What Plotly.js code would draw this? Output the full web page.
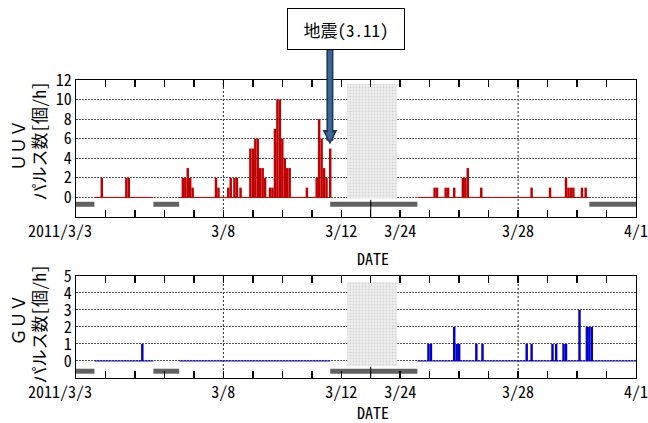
<!DOCTYPE html>
<html><head><meta charset="utf-8">
<script src="https://cdn.plot.ly/plotly-3.0.1.min.js"></script>
<style>html,body{margin:0;padding:0;background:#fff}</style>
</head><body><div id="chart" style="width:648px;height:423px"></div>
<script>
// ---------- data ----------
const uuvTimes = ['2011-03-03 20:00','2011-03-04 16:00','2011-03-04 18:00',
  '2011-03-06 14:00','2011-03-06 16:00','2011-03-06 18:00','2011-03-06 20:00','2011-03-06 22:00',
  '2011-03-07 17:00','2011-03-07 19:00',
  '2011-03-08 03:00','2011-03-08 05:00','2011-03-08 08:00','2011-03-08 10:00','2011-03-08 13:00',
  '2011-03-08 21:00','2011-03-08 23:00','2011-03-09 01:00','2011-03-09 03:00','2011-03-09 05:00',
  '2011-03-09 07:00','2011-03-09 09:00','2011-03-09 13:00','2011-03-09 15:00','2011-03-09 17:00',
  '2011-03-09 19:00','2011-03-09 21:00','2011-03-09 23:00','2011-03-10 01:00','2011-03-10 03:00',
  '2011-03-10 05:00','2011-03-10 19:00',
  '2011-03-11 03:00','2011-03-11 05:00','2011-03-11 07:00','2011-03-11 09:00','2011-03-11 11:00','2011-03-11 14:00',
  '2011-03-25 03:00','2011-03-25 05:00','2011-03-25 12:00','2011-03-25 14:00','2011-03-25 19:00',
  '2011-03-26 02:00','2011-03-26 04:00','2011-03-26 06:00','2011-03-26 17:00',
  '2011-03-28 10:00','2011-03-29 01:00','2011-03-29 14:00','2011-03-29 16:00','2011-03-29 18:00',
  '2011-03-29 20:00','2011-03-30 03:00','2011-03-30 06:00'];
const uuvCounts = [2,2,2,
  2,2,3,2,1,
  2,1,
  1,2,2,2,1,
  5,5,6,6,3,
  3,2,1,1,7,
  10,10,6,4,3,
  3,1,
  2,8,6,3,2,5,
  1,1,1,1,1,
  2,2,3,1,
  1,1,2,1,1,
  1,1,1];
const guvTimes = ['2011-03-05 05:00',
  '2011-03-24 22:00','2011-03-25 00:00','2011-03-25 19:00','2011-03-25 21:00','2011-03-25 23:00',
  '2011-03-26 13:00','2011-03-26 18:00','2011-03-28 06:00','2011-03-28 10:00',
  '2011-03-29 03:00','2011-03-29 06:00','2011-03-29 12:00','2011-03-29 14:00',
  '2011-03-30 01:00','2011-03-30 07:00','2011-03-30 09:00','2011-03-30 11:00'];
const guvCounts = [1,
  1,1,2,1,1,
  1,1,1,1,
  1,1,1,1,
  3,2,2,2];
// missing-data periods (gray bars)
const guvGapStart = ['2011-03-03 00:00','2011-03-05 15:00','2011-03-11 15:00'];
const guvGapEnd   = ['2011-03-03 15:00','2011-03-06 12:00','2011-03-24 14:00'];
const uuvGapStart = ['2011-03-03 00:00','2011-03-05 15:00','2011-03-11 15:00','2011-03-30 10:00'];
const uuvGapEnd   = ['2011-03-03 15:00','2011-03-06 12:00','2011-03-24 14:00','2011-04-01 00:00'];
const startTime = '2011-03-03 00:00';
const endTime = '2011-04-01 00:00';
const breakStart = '2011-03-12 00:00';   // axis is compressed between these two dates
const breakEnd = '2011-03-24 00:00';
const tickDates = ['2011-03-03 00:00','2011-03-08 00:00','2011-03-12 00:00','2011-03-24 00:00','2011-03-28 00:00','2011-04-01 00:00'];
const tickLabels = ['2011/3/3\u00a0\u00a0\u00a0\u00a0','3/8','3/12','3/24','3/28','4/1'];
const gridDates = ['2011-03-08 00:00','2011-03-28 00:00'];
const quakeTime = '2011-03-11 14:46';
const quakeLabel = '地震(3.11)';
const uuvYTicks = [0,2,4,6,8,10,12];
const guvYTicks = [0,1,2,3,4,5];
const binHours = 2;

// ---------- helpers ----------
function parseT(s){ const m = s.match(/(\d+)-(\d+)-(\d+) (\d+):(\d+)/); return Date.UTC(+m[1], +m[2]-1, +m[3], +m[4], +m[5]); }
function hours(s){ return (parseT(s) - parseT(startTime))/3.6e6; }
const bS = hours(breakStart), bE = hours(breakEnd), BREAK_UNITS = 2;
function toAxis(h){
  if (h >= bE) return (h - bE)/24 + bS/24 + BREAK_UNITS;
  if (h <= bS) return h/24;
  return bS/24 + (h - bS)/(bE - bS)*BREAK_UNITS;
}
const axisEnd = toAxis(hours(endTime));
function barTrace(times, counts, color, xa, ya){
  return {type:'bar', x: times.map(t=>toAxis(hours(t)+binHours/2)), y: counts,
    width: binHours/24, marker:{color:color, line:{width:0}}, xaxis:xa, yaxis:ya, hoverinfo:'skip'};
}
function baselineTrace(gs, ge, color, xa, ya){
  const starts = gs.map(hours), ends = ge.map(hours);
  const x = [], y = [];
  let cur = 0;
  const order = starts.map((s,i)=>i).sort((a,b)=>starts[a]-starts[b]);
  const endH = hours(endTime);
  order.forEach(i=>{
    if (starts[i] > cur){ x.push(toAxis(cur), toAxis(starts[i]), null); y.push(0,0,null); }
    cur = Math.max(cur, ends[i]);
  });
  if (cur < endH){ x.push(toAxis(cur), toAxis(endH)); y.push(0,0); }
  return {type:'scatter', mode:'lines', x:x, y:y, line:{color:color, width:1}, xaxis:xa, yaxis:ya, hoverinfo:'skip', connectgaps:false};
}
function gapTrace(gs, ge, yv, xa, ya){
  const x = [], y = [];
  gs.forEach((s,i)=>{ x.push(toAxis(hours(s)), toAxis(hours(ge[i])), null); y.push(yv, yv, null); });
  return {type:'scatter', mode:'lines', x:x, y:y, line:{color:'#626262', width:5}, xaxis:xa, yaxis:ya, hoverinfo:'skip', connectgaps:false};
}
// shaded block over the compressed part of the axis
function shadeTrace(y0, y1, xa, ya){
  const s0 = bS/24 + 0.2, s1 = bS/24 + BREAK_UNITS - 0.1;
  return {type:'bar', x:[(s0+s1)/2], y:[y1-y0], base:[y0], width:[s1-s0], xaxis:xa, yaxis:ya, hoverinfo:'skip',
    marker:{color:'#eeeeee', line:{width:0}, pattern:{shape:'.', fgcolor:'#d4d4d4', bgcolor:'#f0f0f0', size:3, solidity:0.3}}};
}

const FONT = "'Noto Sans Mono CJK JP', 'Noto Sans CJK JP', monospace";
const RED = '#c00000', BLUE = '#0000c8';

const traces = [
  shadeTrace(-0.1, 11.6, 'x', 'y'),
  baselineTrace(uuvGapStart, uuvGapEnd, RED, 'x', 'y'),
  barTrace(uuvTimes, uuvCounts, RED, 'x', 'y'),
  gapTrace(uuvGapStart, uuvGapEnd, -0.7, 'x', 'y'),
  shadeTrace(-0.3, 4.65, 'x2', 'y2'),
  baselineTrace(guvGapStart, guvGapEnd, BLUE, 'x2', 'y2'),
  barTrace(guvTimes, guvCounts, BLUE, 'x2', 'y2'),
  gapTrace(guvGapStart, guvGapEnd, -0.6, 'x2', 'y2')
];

const MARGIN = {l:76, r:12, t:80, b:45}, H = 423;
const yDom1 = [0.5403, 1], yDom2 = [0, 0.3423];

const tickVals = tickDates.map(d=>toAxis(hours(d)));
function xAxis(anchor){
  return {domain:[0,1], range:[0, axisEnd], anchor:anchor, tickmode:'array', tickvals:tickVals, ticktext:tickLabels,
    ticks:'inside', ticklen:7, tickwidth:1.5, tickcolor:'#000', showline:true, linecolor:'#000', linewidth:1,
    mirror:'ticks', showgrid:false, zeroline:false, tickfont:{family:FONT, size:16, color:'#000'},
    ticklabeloverflow:'allow',
    minor:{ticks:'inside', ticklen:7, tickwidth:1.5, tickcolor:'#000', tick0:0, dtick:1, showgrid:false}};
}
function yAxis(domain, range, tv, anchor){
  return {domain:domain, range:range, anchor:anchor, tickmode:'array', tickvals:tv, ticks:'',
    showgrid:true, gridcolor:'#555', griddash:'2px,1px', gridwidth:1, zeroline:false,
    showline:true, linecolor:'#000', linewidth:1, mirror:true,
    tickfont:{family:FONT, size:16, color:'#000'}};
}

const shapes = [];
[['x','y'],['x2','y2']].forEach(([xa,ya], k)=>{
  gridDates.forEach(d=>{
    const xv = toAxis(hours(d));
    shapes.push({type:'line', xref:xa, yref:ya+' domain', x0:xv, x1:xv, y0:0, y1:1, layer:'below',
      line:{color:'#222', width:1, dash:'2px,2px'}});
  });
  const mid = bS/24 + BREAK_UNITS/2;
  shapes.push({type:'line', xref:xa, yref:ya+' domain', x0:mid, x1:mid, y0:0, y1: k===0?0.125:0.11,
    layer:'above', line:{color:'#000', width:1}});
});

const qx = toAxis(hours(quakeTime));
const annotations = [
  {xref:'paper', yref:'paper', x:0.4813, y:1.1718, text:quakeLabel, showarrow:false, bordercolor:'#000', borderwidth:1,
   bgcolor:'#fff', width:114, height:38, borderpad:1, xanchor:'center', yanchor:'middle', font:{family:FONT, size:17, color:'#000'}},
  {xref:'x', yref:'y', x:qx, y:5.4, text:'', showarrow:true, ax:0, ay:-96, arrowcolor:'#1d3557', arrowwidth:7, arrowhead:2, arrowsize:0.42},
  {xref:'x', yref:'y', x:qx, y:5.75, text:'', showarrow:true, ax:0, ay:-92.5, arrowcolor:'#3b6696', arrowwidth:4, arrowhead:2, arrowsize:0.45},
  {xref:'paper', yref:'paper', x:0.5304, y:0.4027, text:'DATE', showarrow:false, xanchor:'center', yanchor:'middle', font:{family:FONT, size:16, color:'#000'}},
  {xref:'paper', yref:'paper', x:0.5304, y:-0.114, text:'DATE', showarrow:false, xanchor:'center', yanchor:'middle', font:{family:FONT, size:16, color:'#000'}},
  {xref:'paper', yref:'paper', x:-0.1045, y:0.780, text:'ＵＵＶ', textangle:-90, showarrow:false, xanchor:'center', yanchor:'middle', font:{family:FONT, size:17, color:'#000'}},
  {xref:'paper', yref:'paper', x:-0.067, y:0.795, text:'パルス数[個/h]', textangle:-90, showarrow:false, xanchor:'center', yanchor:'middle', font:{family:FONT, size:17, color:'#000'}},
  {xref:'paper', yref:'paper', x:-0.1045, y:0.1946, text:'ＧＵＶ', textangle:-90, showarrow:false, xanchor:'center', yanchor:'middle', font:{family:FONT, size:17, color:'#000'}},
  {xref:'paper', yref:'paper', x:-0.067, y:0.181, text:'パルス数[個/h]', textangle:-90, showarrow:false, xanchor:'center', yanchor:'middle', font:{family:FONT, size:17, color:'#000'}}
];

const layout = {
  width:648, height:H, margin:MARGIN, paper_bgcolor:'#fff', plot_bgcolor:'#fff',
  showlegend:false, barmode:'overlay', font:{family:FONT, color:'#000'},
  xaxis: xAxis('y'), xaxis2: xAxis('y2'),
  yaxis: yAxis(yDom1, [-2,12], uuvYTicks, 'x'),
  yaxis2: yAxis(yDom2, [-1,5], guvYTicks, 'x2'),
  shapes: shapes, annotations: annotations
};
Plotly.newPlot('chart', traces, layout, {staticPlot:true, displayModeBar:false});
</script></body></html>
